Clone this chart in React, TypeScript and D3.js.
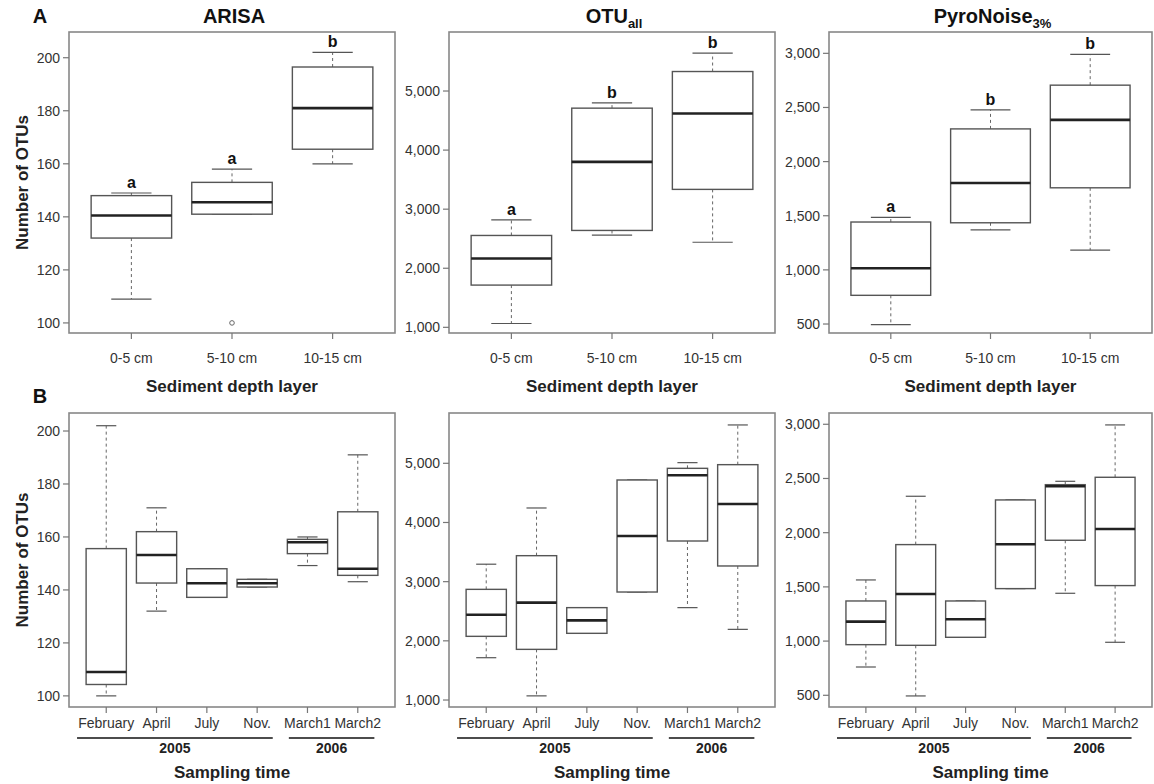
import React, { useEffect, useRef } from 'react';
import * as d3 from 'd3';

// five-number summaries: [lower whisker, Q1, median, Q3, upper whisker]
const depthLayers = ['0-5 cm', '5-10 cm', '10-15 cm'];
const samplingMonths = ['February', 'April', 'July', 'Nov.', 'March1', 'March2'];

const arisaDepth = [
  [109, 132, 140.5, 148, 149],
  [141, 141, 145.5, 153, 158],
  [160, 165.5, 181, 196.5, 202],
];
const arisaDepthOutliers = [[], [100], []];
const arisaDepthLetters = ['a', 'a', 'b'];

const otuDepth = [
  [1065, 1715, 2165, 2555, 2820],
  [2560, 2640, 3800, 4710, 4800],
  [2440, 3335, 4620, 5330, 5640],
];
const otuDepthLetters = ['a', 'b', 'b'];

const pyroDepth = [
  [495, 765, 1015, 1442, 1485],
  [1370, 1435, 1802, 2302, 2478],
  [1182, 1758, 2385, 2706, 2990],
];
const pyroDepthLetters = ['a', 'b', 'b'];

const arisaTime = [
  [100, 104.3, 109, 155.6, 202],
  [132, 142.6, 153.2, 162, 171],
  [137.2, 137.2, 142.5, 148, 148],
  [141.1, 141.1, 142.5, 144, 144],
  [149.2, 153.7, 158, 159.1, 160],
  [143.1, 145.5, 148, 169.5, 191],
];

const otuTime = [
  [1715, 2076, 2442, 2870, 3295],
  [1070, 1856, 2645, 3439, 4245],
  [2127, 2127, 2346, 2561, 2561],
  [2825, 2825, 3772, 4718, 4718],
  [2561, 3687, 4797, 4915, 5011],
  [2194, 3265, 4313, 4977, 5648],
];

const pyroTime = [
  [761, 967, 1180, 1370, 1564],
  [494, 961, 1435, 1890, 2336],
  [1035, 1035, 1201, 1370, 1370],
  [1484, 1484, 1893, 2302, 2302],
  [1441, 1930, 2428, 2443, 2474],
  [989, 1512, 2034, 2511, 2994],
];

const arisaTicks = [100, 120, 140, 160, 180, 200];
const otuTicks = [1000, 2000, 3000, 4000, 5000];
const pyroTicks = [500, 1000, 1500, 2000, 2500, 3000];

const yearGroups = [
  { label: '2005', first: 'February', last: 'Nov.' },
  { label: '2006', first: 'March1', last: 'March2' },
];

const FONT = "'Liberation Sans', Arial, Helvetica, sans-serif";

interface PanelSpec {
  left: number;
  right: number;
  top: number;
  bottom: number;
  labelOffset: number;
  categories: string[];
  stats: number[][];
  outliers?: number[][];
  letters?: string[];
  domain: [number, number];
  ticks: number[];
}

function drawPanel(svg: d3.Selection<SVGSVGElement, unknown, null, undefined>, p: PanelSpec) {
  const n = p.categories.length;
  const pad = 0.5 + 0.04 * n;
  const x = d3.scaleLinear().domain([1 - pad, n + pad]).range([p.left, p.right]);
  const y = d3.scaleLinear().domain(p.domain).range([p.bottom, p.top]);
  const step = x(2) - x(1);
  const bw = step * 0.8;
  const g = svg.append('g');

  p.stats.forEach((s, i) => {
    const cx = x(i + 1);
    const [lo, q1, med, q3, hi] = s;
    // dashed whiskers
    [[q3, hi], [q1, lo]].forEach(([a, b]) => {
      g.append('line')
        .attr('x1', cx).attr('x2', cx)
        .attr('y1', y(a)).attr('y2', y(b))
        .attr('stroke', '#666').attr('stroke-width', 1)
        .attr('stroke-dasharray', '3,3');
    });
    // staples
    [lo, hi].forEach(v => {
      g.append('line')
        .attr('x1', cx - bw / 4).attr('x2', cx + bw / 4)
        .attr('y1', y(v)).attr('y2', y(v))
        .attr('stroke', '#555').attr('stroke-width', 1.2);
    });
    g.append('rect')
      .attr('x', cx - bw / 2)
      .attr('y', y(q3))
      .attr('width', bw)
      .attr('height', Math.max(0.5, y(q1) - y(q3)))
      .attr('fill', '#fff')
      .attr('stroke', '#555')
      .attr('stroke-width', 1.4);
    g.append('line')
      .attr('x1', cx - bw / 2).attr('x2', cx + bw / 2)
      .attr('y1', y(med)).attr('y2', y(med))
      .attr('stroke', '#222').attr('stroke-width', 2.6);

    (p.outliers?.[i] ?? []).forEach(o => {
      g.append('circle')
        .attr('cx', cx).attr('cy', y(o)).attr('r', 2.3)
        .attr('fill', 'none').attr('stroke', '#666').attr('stroke-width', 1);
    });

    if (p.letters) {
      g.append('text')
        .attr('x', cx).attr('y', y(hi) - 5)
        .attr('text-anchor', 'middle')
        .attr('font-family', FONT).attr('font-weight', 'bold').attr('font-size', 16)
        .attr('fill', '#111')
        .text(p.letters[i]);
    }
  });

  // frame
  g.append('rect')
    .attr('x', p.left).attr('y', p.top)
    .attr('width', p.right - p.left).attr('height', p.bottom - p.top)
    .attr('fill', 'none').attr('stroke', '#888').attr('stroke-width', 1.6);

  // y axis
  p.ticks.forEach(t => {
    g.append('line')
      .attr('x1', p.left - 6).attr('x2', p.left)
      .attr('y1', y(t)).attr('y2', y(t))
      .attr('stroke', '#777').attr('stroke-width', 1.2);
    g.append('text')
      .attr('x', p.left - 9).attr('y', y(t)).attr('dy', '0.35em')
      .attr('text-anchor', 'end')
      .attr('font-family', FONT).attr('font-size', 14).attr('fill', '#333')
      .text(d3.format(',')(t));
  });

  // x axis
  p.categories.forEach((c, i) => {
    const cx = x(i + 1);
    g.append('line')
      .attr('x1', cx).attr('x2', cx)
      .attr('y1', p.bottom).attr('y2', p.bottom + 6)
      .attr('stroke', '#777').attr('stroke-width', 1.2);
    g.append('text')
      .attr('x', cx).attr('y', p.bottom + p.labelOffset)
      .attr('text-anchor', 'middle')
      .attr('font-family', FONT).attr('font-size', 14).attr('fill', '#333')
      .text(c);
  });

  return x;
}

const App: React.FC = () => {
  const ref = useRef<SVGSVGElement | null>(null);

  useEffect(() => {
    if (!ref.current) return;
    const svg = d3.select(ref.current);
    svg.selectAll('*').remove();

    const cols = [
      { left: 69, right: 395 },
      { left: 449, right: 775 },
      { left: 829, right: 1152 },
    ];
    const topRow = { top: 32, bottom: 333, labelOffset: 30 };
    const botRow = { top: 413, bottom: 707, labelOffset: 21 };

    drawPanel(svg, { ...cols[0], ...topRow, categories: depthLayers, stats: arisaDepth,
      outliers: arisaDepthOutliers, letters: arisaDepthLetters, domain: [96.2, 209.7], ticks: arisaTicks });
    drawPanel(svg, { ...cols[1], ...topRow, categories: depthLayers, stats: otuDepth,
      letters: otuDepthLetters, domain: [904, 5999], ticks: otuTicks });
    drawPanel(svg, { ...cols[2], ...topRow, categories: depthLayers, stats: pyroDepth,
      letters: pyroDepthLetters, domain: [417, 3197], ticks: pyroTicks });

    const bottomStats = [arisaTime, otuTime, pyroTime];
    const bottomDomains: [number, number][] = [[95.8, 206.8], [882, 5850], [392, 3104]];
    const bottomTicks = [arisaTicks, otuTicks, pyroTicks];

    // year bracket padding in category units
    const yearPad: Record<string, [number, number]> = { '2005': [0.58, 0.31], '2006': [0.37, 0.33] };

    cols.forEach((c, k) => {
      const x = drawPanel(svg, { ...c, ...botRow, categories: samplingMonths, stats: bottomStats[k],
        domain: bottomDomains[k], ticks: bottomTicks[k] });
      yearGroups.forEach(yg => {
        const i0 = samplingMonths.indexOf(yg.first) + 1;
        const i1 = samplingMonths.indexOf(yg.last) + 1;
        const [pl, pr] = yearPad[yg.label];
        const x0 = x(i0 - pl);
        const x1 = x(i1 + pr);
        svg.append('line')
          .attr('x1', x0).attr('x2', x1).attr('y1', 738).attr('y2', 738)
          .attr('stroke', '#111').attr('stroke-width', 1.5);
        svg.append('text')
          .attr('x', (x0 + x1) / 2).attr('y', 753)
          .attr('text-anchor', 'middle')
          .attr('font-family', FONT).attr('font-weight', 'bold').attr('font-size', 14).attr('fill', '#222')
          .text(yg.label);
      });
      svg.append('text')
        .attr('x', (c.left + c.right) / 2).attr('y', 778)
        .attr('text-anchor', 'middle')
        .attr('font-family', FONT).attr('font-weight', 'bold').attr('font-size', 17).attr('fill', '#222')
        .text('Sampling time');
      svg.append('text')
        .attr('x', (c.left + c.right) / 2).attr('y', 392)
        .attr('text-anchor', 'middle')
        .attr('font-family', FONT).attr('font-weight', 'bold').attr('font-size', 17).attr('fill', '#222')
        .text('Sediment depth layer');
    });

    // titles
    const titles: [string, string][] = [['ARISA', ''], ['OTU', 'all'], ['PyroNoise', '3%']];
    titles.forEach(([main, sub], k) => {
      const t = svg.append('text')
        .attr('x', (cols[k].left + cols[k].right) / 2 + 2).attr('y', 23)
        .attr('text-anchor', 'middle')
        .attr('font-family', FONT).attr('font-weight', 'bold').attr('font-size', 20).attr('fill', '#111');
      t.append('tspan').text(main);
      if (sub) t.append('tspan').attr('dy', 5).attr('font-size', 13).text(sub);
    });

    // panel letters
    [['A', 23], ['B', 403]].forEach(([l, yy]) => {
      svg.append('text')
        .attr('x', 40).attr('y', yy as number)
        .attr('text-anchor', 'middle')
        .attr('font-family', FONT).attr('font-weight', 'bold').attr('font-size', 20).attr('fill', '#111')
        .text(l as string);
    });

    // y axis titles
    [(topRow.top + topRow.bottom) / 2, (botRow.top + botRow.bottom) / 2].forEach(cy => {
      svg.append('text')
        .attr('transform', `translate(22,${cy}) rotate(-90)`)
        .attr('dy', '0.35em')
        .attr('text-anchor', 'middle')
        .attr('font-family', FONT).attr('font-weight', 'bold').attr('font-size', 17).attr('fill', '#222')
        .text('Number of OTUs');
    });
  }, []);

  return (
    <svg
      ref={ref}
      width={1154}
      height={784}
      style={{ position: 'absolute', left: 0, top: 0, background: '#fff', display: 'block' }}
    />
  );
};

export default App;
